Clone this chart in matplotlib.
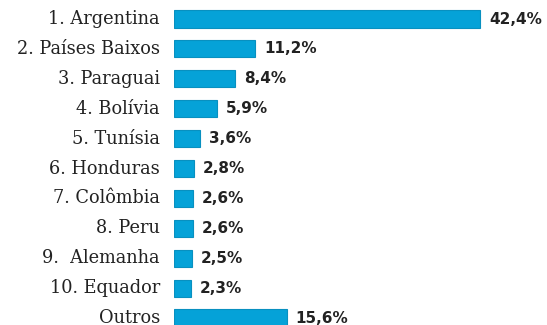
import matplotlib
matplotlib.use("Agg")
import matplotlib.pyplot as plt

categories = ["1. Argentina", "2. Países Baixos", "3. Paraguai", "4. Bolívia", "5. Tunísia",
              "6. Honduras", "7. Colômbia", "8. Peru", "9.  Alemanha", "10. Equador", "Outros"]
values = [42.4, 11.2, 8.4, 5.9, 3.6, 2.8, 2.6, 2.6, 2.5, 2.3, 15.6]
value_labels = ["42,4%", "11,2%", "8,4%", "5,9%", "3,6%", "2,8%", "2,6%", "2,6%", "2,5%", "2,3%", "15,6%"]

W, H = 547, 325
fig = plt.figure(figsize=(W / 100, H / 100), dpi=100)
x0 = 174 / W
ax = fig.add_axes([x0, 0, 1 - x0, 1])
pos = list(range(len(categories)))
ax.barh(pos, values, height=0.57, color="#05A2D8", edgecolor="#0890C0", linewidth=0.8)
ax.set_xlim(0, (W - 174) / 7.22)
ax.set_ylim(10 + 7 / 29.9, -19 / 29.9)
ax.axis("off")

for p, v, lab, cat in zip(pos, values, value_labels, categories):
    ax.text(v + 9 / 7.22, p, lab, va="center", ha="left", fontsize=11,
            fontweight="bold", family="DejaVu Sans", color="#222222")
    ax.annotate(cat, xy=(0, p), xycoords="data", xytext=(-14, 0), textcoords="offset pixels",
                ha="right", va="center", fontsize=12.8, family="DejaVu Serif", color="#222222",
                annotation_clip=False)

fig.savefig("out.png", dpi=100)
